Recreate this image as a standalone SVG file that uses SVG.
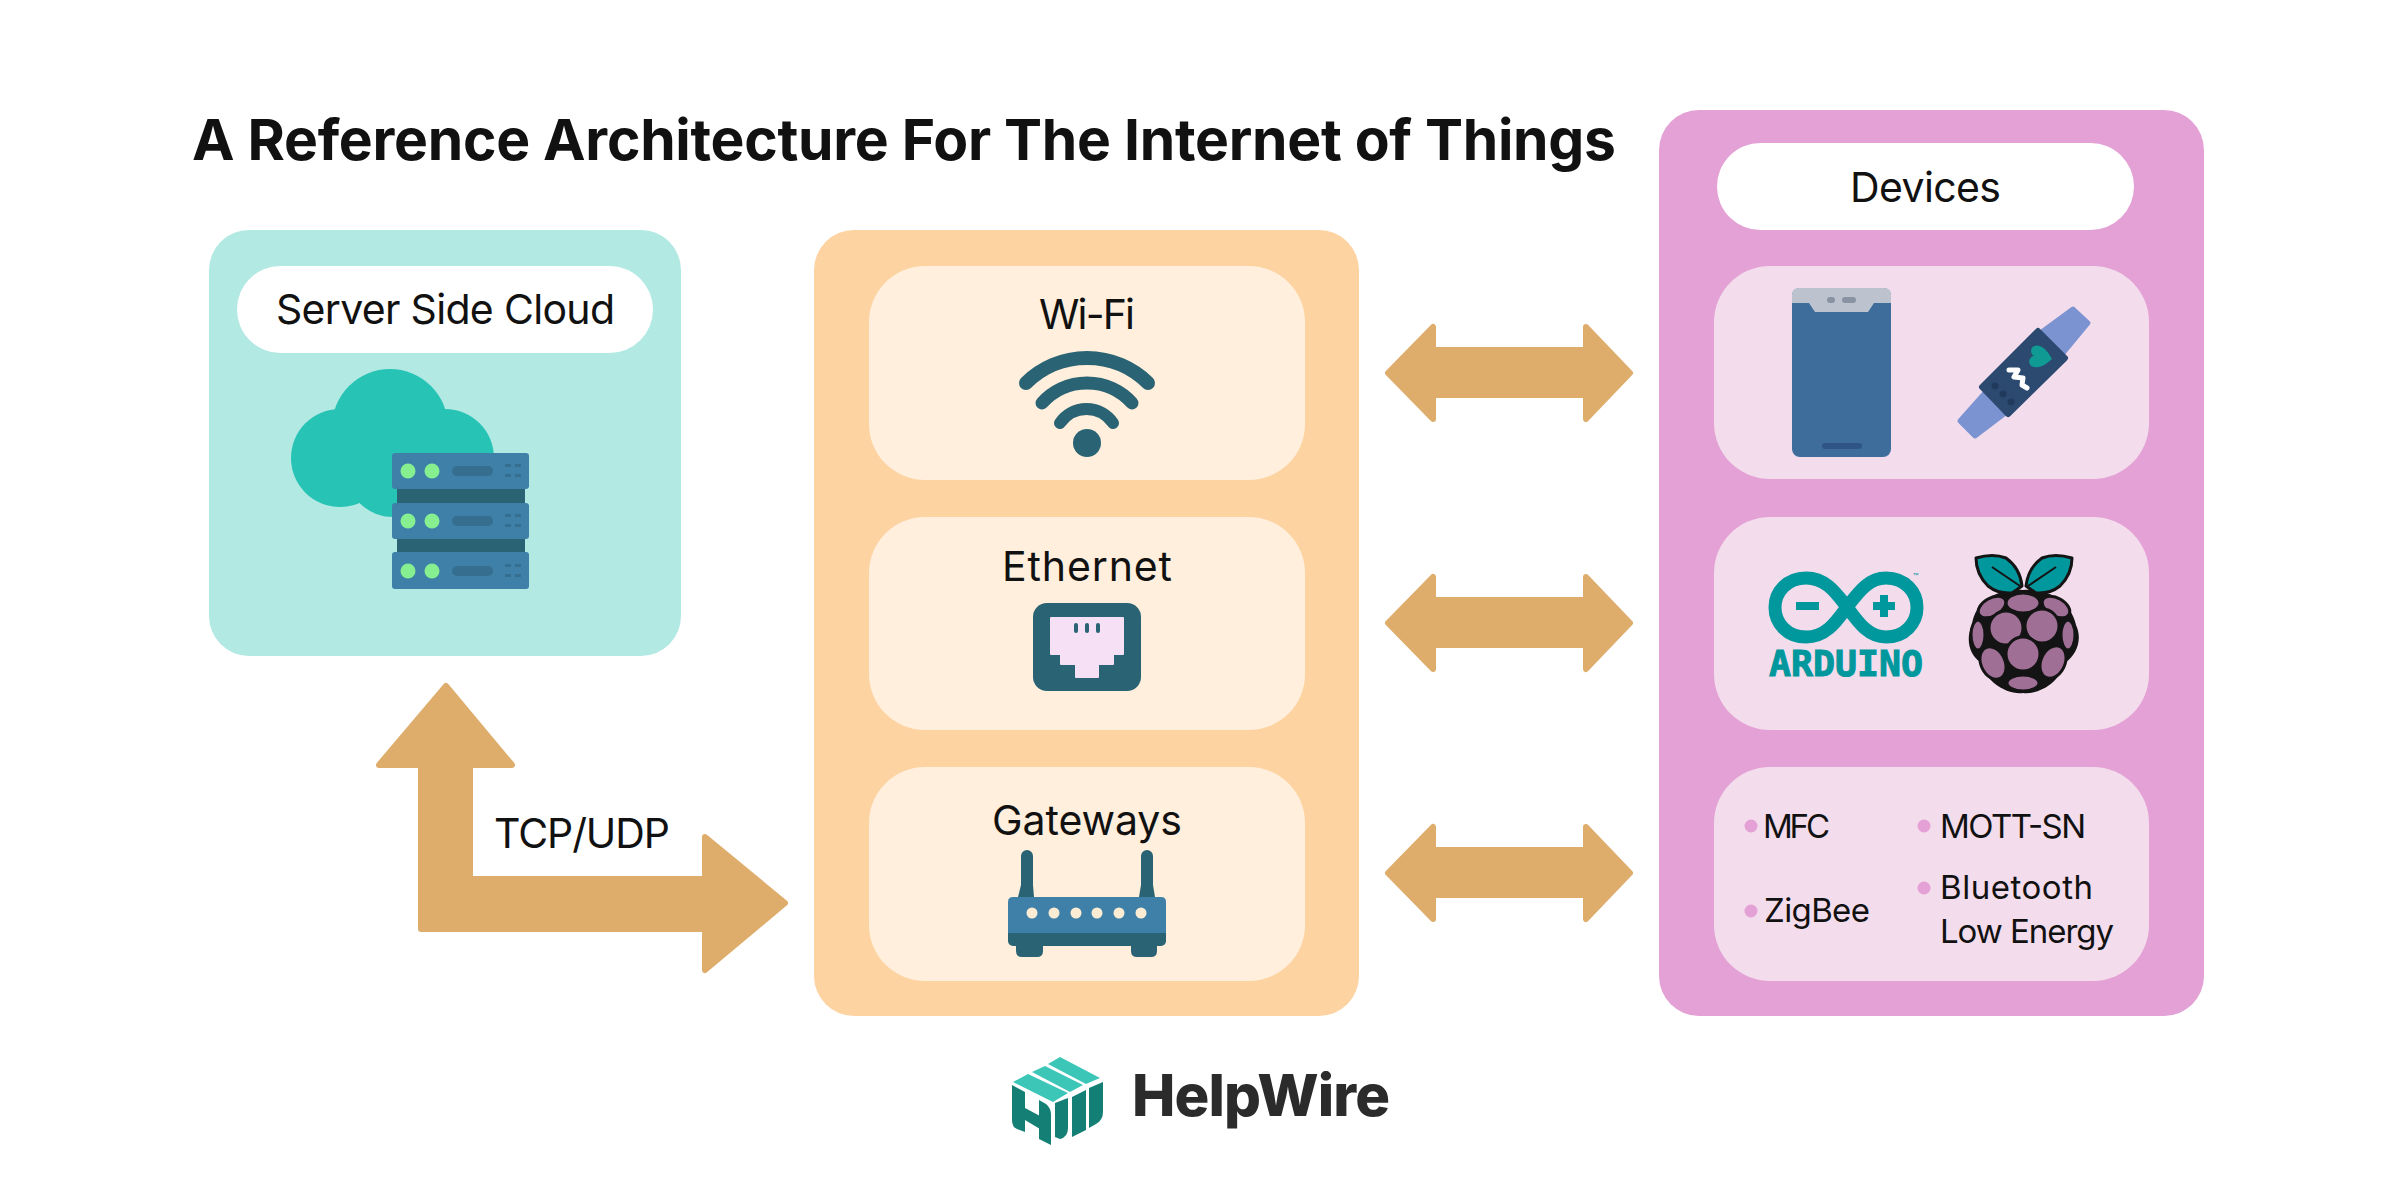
<svg xmlns="http://www.w3.org/2000/svg" width="2400" height="1200" viewBox="0 0 2400 1200">
<style>
text{font-family:Inter,"Liberation Sans",sans-serif;fill:#111;font-weight:400}
.lbl{font-size:41px;text-anchor:start}
.sm{font-size:33px}
.arrow{fill:#deac6b;stroke:#deac6b;stroke-width:6;stroke-linejoin:round}
.blt{fill:#e4a1d5}
.dk{fill:#2a6373}
.bl{fill:#3f80a9}
.grn{fill:#86f090}
.mv{fill:#a06f96;stroke:#141414;stroke-width:3}
.tl{fill:#137f75}
.lt{fill:#3cc6b8}
.org{fill:#ffefdc}
.pnk{fill:#f3dcec}
</style>
<rect width="2400" height="1200" fill="#fff"/>
<text id="title" x="192" y="160" font-size="57" style="font-weight:700" textLength="1424" lengthAdjust="spacing">A Reference Architecture For The Internet of Things</text>

<g id="connectors">
<path class="arrow" d="M1388 373L1433 327V350H1586V327L1630 373L1586 419V395H1433V419Z"/>
<path class="arrow" d="M1388 623L1433 577V600H1586V577L1630 623L1586 669V645H1433V669Z"/>
<path class="arrow" d="M1388 873L1433 827V850H1586V827L1630 873L1586 919V895H1433V919Z"/>
<path class="arrow" d="M446 686L512 765H470V879H705V837L785 903L705 970V929H421V765H379Z"/>
<text class="lbl" x="494" y="848" textLength="176" lengthAdjust="spacing">TCP/UDP</text>
</g>

<g id="cloud-panel">
<rect x="209" y="230" width="472" height="426" rx="40" fill="#b2e9e3"/>
<rect x="237" y="266" width="416" height="87" rx="43.5" fill="#fff"/>
<text class="lbl" x="276" y="324" textLength="339" lengthAdjust="spacing">Server Side Cloud</text>
<g id="cloud-icon" fill="#27c4b6">
<circle cx="390" cy="427" r="58"/><circle cx="340" cy="458" r="49"/><circle cx="445" cy="458" r="49"/><circle cx="393" cy="470" r="47"/>
</g>
<g id="server-icon">
<rect class="dk" x="397" y="485" width="128" height="24"/>
<rect class="dk" x="397" y="535" width="128" height="24"/>
<rect class="bl" x="392" y="453" width="137" height="36" rx="3"/>
<rect class="bl" x="392" y="503" width="137" height="36" rx="3"/>
<rect class="bl" x="392" y="552" width="137" height="37" rx="3"/>
<circle class="grn" cx="408" cy="471" r="7.500"/><circle class="grn" cx="432" cy="471" r="7.500"/>
<circle class="grn" cx="408" cy="521" r="7.500"/><circle class="grn" cx="432" cy="521" r="7.500"/>
<circle class="grn" cx="408" cy="571" r="7.500"/><circle class="grn" cx="432" cy="571" r="7.500"/>
<g fill="#356e8e">
<rect x="452" y="466" width="41" height="10" rx="5"/><rect x="452" y="516" width="41" height="10" rx="5"/><rect x="452" y="566" width="41" height="10" rx="5"/>
<rect x="505" y="464" width="6" height="3"/><rect x="515" y="464" width="6" height="3"/><rect x="505" y="474" width="6" height="3"/><rect x="515" y="474" width="6" height="3"/>
<rect x="505" y="514" width="6" height="3"/><rect x="515" y="514" width="6" height="3"/><rect x="505" y="524" width="6" height="3"/><rect x="515" y="524" width="6" height="3"/>
<rect x="505" y="564" width="6" height="3"/><rect x="515" y="564" width="6" height="3"/><rect x="505" y="574" width="6" height="3"/><rect x="515" y="574" width="6" height="3"/>
</g>
</g>
</g>

<g id="network-panel">
<rect x="814" y="230" width="545" height="786" rx="40" fill="#fdd3a1"/>
<g id="wifi">
<rect class="org" x="869" y="266" width="436" height="214" rx="56"/>
<text class="lbl" x="1039" y="329" textLength="96" lengthAdjust="spacing">Wi-Fi</text>
<g fill="none" stroke="#2a6373" stroke-linecap="round">
<path d="M1026 383A87 87 0 0 1 1148 383" stroke-width="14"/>
<path d="M1042 403A60.600 60.600 0 0 1 1132 403" stroke-width="13"/>
<path d="M1060 423A32 32 0 0 1 1113 423" stroke-width="12"/>
</g>
<circle class="dk" cx="1087" cy="443" r="14"/>
</g>
<g id="ethernet">
<rect class="org" x="869" y="517" width="436" height="213" rx="56"/>
<text class="lbl" x="1002" y="581" textLength="170" lengthAdjust="spacing">Ethernet</text>
<rect class="dk" x="1033" y="603" width="108" height="88" rx="14"/>
<path fill="#f6e0f6" stroke="#f6e0f6" stroke-width="2" stroke-linejoin="round" d="M1051 618H1123V654H1113V664H1098V677H1076V664H1061V654H1051Z"/>
<rect class="dk" x="1074" y="623" width="4" height="10" rx="2"/><rect class="dk" x="1085" y="623" width="4" height="10" rx="2"/><rect class="dk" x="1096" y="623" width="4" height="10" rx="2"/>
</g>
<g id="gateways">
<rect class="org" x="869" y="767" width="436" height="214" rx="56"/>
<text class="lbl" x="992" y="835" textLength="190" lengthAdjust="spacing">Gateways</text>
<path class="dk" d="M1021 856A6 6 0 0 1 1033 856V885L1034 897H1018L1021 885Z"/>
<path class="dk" d="M1141 856A6 6 0 0 1 1153 856V885L1155 897H1139L1141 885Z"/>
<path class="dk" d="M1016 944H1043V951Q1043 957 1037 957H1022Q1016 957 1016 951Z"/>
<path class="dk" d="M1131 944H1157V951Q1157 957 1151 957H1137Q1131 957 1131 951Z"/>
<rect class="dk" x="1008" y="925" width="158" height="21" rx="5"/>
<path class="bl" d="M1013 897H1161Q1166 897 1166 902V933H1008V902Q1008 897 1013 897Z"/>
<g fill="#fdecd4">
<circle cx="1032" cy="913" r="5.500"/><circle cx="1054" cy="913" r="5.500"/><circle cx="1076" cy="913" r="5.500"/><circle cx="1097" cy="913" r="5.500"/><circle cx="1119" cy="913" r="5.500"/><circle cx="1141" cy="913" r="5.500"/>
</g>
</g>
</g>

<g id="devices-panel">
<rect x="1659" y="110" width="545" height="906" rx="40" fill="#e4a1d5"/>
<rect x="1717" y="143" width="417" height="87" rx="43.5" fill="#fff"/>
<text class="lbl" x="1850" y="202" textLength="151" lengthAdjust="spacing">Devices</text>
<g id="phones-wearables">
<rect class="pnk" x="1714" y="266" width="435" height="213" rx="56"/>
<g id="phone">
<rect x="1792" y="288" width="99" height="169" rx="8" fill="#3f6d9b"/>
<path fill="#bcc3cf" d="M1792 303V295Q1792 288 1799 288H1884Q1891 288 1891 295V303H1874L1868 312H1815L1809 303Z"/>
<rect x="1827" y="297" width="8" height="6" rx="3" fill="#8a93a3"/><rect x="1842" y="297" width="14" height="6" rx="3" fill="#8a93a3"/>
<rect x="1822" y="443" width="40" height="6" rx="3" fill="#2f5586"/>
</g>
<g id="band" stroke-linejoin="round">
<path fill="#7b93d1" stroke="#7b93d1" stroke-width="5" d="M2043 331L2073 309L2088 323L2064 352Z"/>
<path fill="#7b93d1" stroke="#7b93d1" stroke-width="5" d="M1984 394L2004 414L1975 436L1960 421Z"/>
<path fill="#2c4a70" stroke="#2c4a70" stroke-width="6" d="M2038 331L2065 358L2008 414L1982 387Z"/>
<path fill="#0f9a94" transform="translate(2040 357) rotate(-80) scale(1.100)" d="M0 11C-14 1 -11 -9 -5 -9C-2 -9 0 -7 0 -5C0 -7 2 -9 5 -9C11 -9 14 1 0 11Z"/>
<path fill="none" stroke="#fff" stroke-width="5" stroke-linejoin="round" stroke-linecap="round" d="M2009 370L2018 370L2014 377L2023 378L2022 385L2027 388"/>
<g fill="#1f3a5a"><circle cx="1995" cy="386" r="3.500"/><circle cx="2003" cy="394" r="3.500"/><circle cx="2011" cy="402" r="3.500"/></g>
</g>
</g>
<g id="boards">
<rect class="pnk" x="1714" y="517" width="435" height="213" rx="56"/>
<g id="arduino">
<path fill="none" stroke="#00979d" stroke-width="13" d="M1847 607C1836 593 1826 578 1806 578C1787 578 1775 592 1775 607.500C1775 623 1787 637 1806 637C1826 637 1836 622 1847 607C1858 593 1868 578 1886 578C1905 578 1917 592 1917 607.500C1917 623 1905 637 1886 637C1868 637 1858 622 1847 607Z"/>
<rect x="1796" y="602" width="23" height="8" fill="#00979d"/>
<path fill="#00979d" d="M1873 602H1880V595H1888V602H1895V610H1888V617H1880V610H1873Z"/>
<text x="1913" y="580" font-size="9" style="fill:#00979d">™</text>
<text x="1769" y="676" font-size="36" textLength="154" lengthAdjust="spacingAndGlyphs" style="font-family:'DejaVu Sans Mono','Liberation Mono',monospace;font-weight:700;fill:#00979d;stroke:#00979d;stroke-width:1">ARDUINO</text>
</g>
<g id="raspberry">
<path fill="#141414" d="M2023 590C2000 588 1975 600 1972 625C1965 640 1970 655 1980 662C1985 680 2005 695 2023 693C2041 695 2061 680 2066 662C2076 655 2083 640 2076 625C2071 600 2046 588 2023 590Z"/>
<path fill="#00979d" stroke="#141414" stroke-width="3" stroke-linejoin="round" d="M1976 558Q1993 553 2006 558Q2020 568 2022 586L2012 593Q1998 594 1988 586Q1976 574 1976 558Z"/>
<path fill="#00979d" stroke="#141414" stroke-width="3" stroke-linejoin="round" d="M2072 558Q2055 553 2042 558Q2028 568 2026 586L2036 593Q2050 594 2060 586Q2072 574 2072 558Z"/>
<path fill="none" stroke="#141414" stroke-width="2" d="M1992 567L2020 586M2056 567L2028 586"/>
<ellipse class="mv" cx="2023" cy="603" rx="17" ry="10"/>
<ellipse class="mv" cx="1992" cy="607" rx="15" ry="9" transform="rotate(-30 1992 607)"/>
<ellipse class="mv" cx="2056" cy="607" rx="15" ry="9" transform="rotate(30 2056 607)"/>
<circle class="mv" cx="2006" cy="628" r="17"/><circle class="mv" cx="2042" cy="626" r="17"/>
<ellipse class="mv" cx="1978" cy="635" rx="7" ry="15"/><ellipse class="mv" cx="2068" cy="635" rx="7" ry="15"/>
<circle class="mv" cx="2023" cy="654" r="17"/>
<ellipse class="mv" cx="1993" cy="663" rx="12" ry="17" transform="rotate(-25 1993 663)"/>
<ellipse class="mv" cx="2053" cy="662" rx="12" ry="17" transform="rotate(25 2053 662)"/>
<ellipse class="mv" cx="2023" cy="683" rx="16" ry="8"/>
</g>
</g>
<g id="protocols">
<rect class="pnk" x="1714" y="767" width="435" height="214" rx="56"/>
<circle class="blt" cx="1751" cy="826" r="6.500"/><circle class="blt" cx="1924" cy="826" r="6.500"/><circle class="blt" cx="1751" cy="911" r="6.500"/><circle class="blt" cx="1924" cy="888" r="6.500"/>
<text class="sm" x="1763" y="838" textLength="67" lengthAdjust="spacing">MFC</text>
<text class="sm" x="1940" y="838" textLength="146" lengthAdjust="spacing">MOTT-SN</text>
<text class="sm" x="1764" y="922" textLength="106" lengthAdjust="spacing">ZigBee</text>
<text class="sm" x="1940" y="899" textLength="153" lengthAdjust="spacing">Bluetooth</text>
<text class="sm" x="1940" y="943" textLength="174" lengthAdjust="spacing">Low Energy</text>
</g>
</g>

<g id="helpwire-logo">
<path class="lt" d="M1013 1082L1028 1074L1068 1093L1053 1102Z"/>
<path class="lt" d="M1032 1072L1045 1066L1083 1085L1070 1092Z"/>
<path class="lt" d="M1048 1064L1060 1057L1100 1078L1086 1084Z"/>
<path class="tl" d="M1012 1085L1025 1092V1132L1017 1129Q1012 1127 1012 1120Z"/>
<path class="tl" d="M1025 1108L1040 1116V1129L1025 1120Z"/>
<path class="tl" d="M1039 1100L1046 1104Q1051 1108 1051 1115V1145L1039 1139Z"/>
<path class="tl" d="M1068 1098V1128Q1068 1137 1060 1139L1055 1137V1103Z"/>
<path class="tl" d="M1072 1097L1086 1090V1130L1072 1137Z"/>
<path class="tl" d="M1089 1088L1103 1082V1112Q1103 1120 1096 1124L1089 1128Z"/>
<text x="1132" y="1116" font-size="58" textLength="258" lengthAdjust="spacing" style="font-weight:800;fill:#2b2b2b">HelpWire</text>
</g>
</svg>
